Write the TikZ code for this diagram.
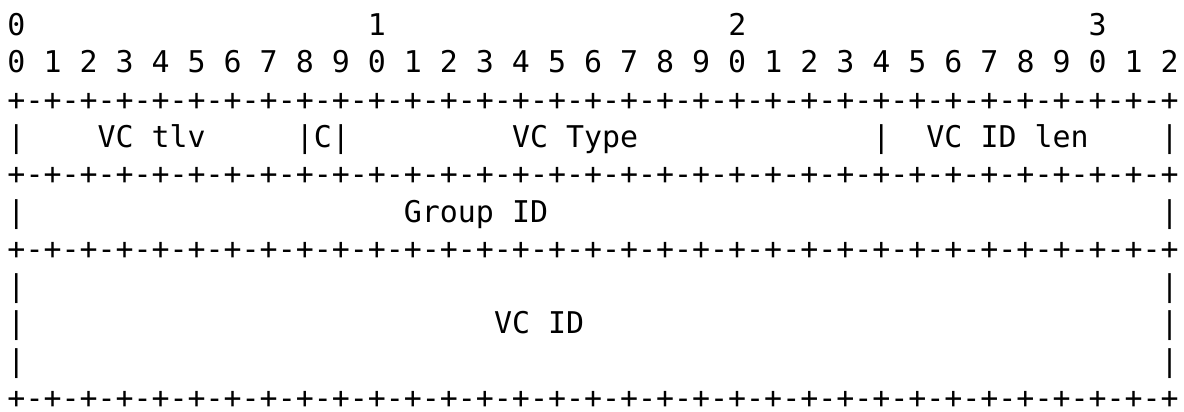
\documentclass[tikz,border=0pt]{standalone}
\usepackage{fontspec}
\newfontfamily\asciifont{DejaVu Sans Mono}
\begin{document}
\begin{tikzpicture}[x=1pt,y=-1pt,
  row/.style={anchor=base west,inner sep=0pt,outer sep=0pt,font=\asciifont\fontsize{29.93}{37.4}\selectfont}]
\useasboundingbox (0,0) rectangle (1184,412);
\def\rowy#1{35.5+37.3*#1}
\node[row] (r0) at (7.5,{\rowy{0}}) {0~~~~~~~~~~~~~~~~~~~1~~~~~~~~~~~~~~~~~~~2~~~~~~~~~~~~~~~~~~~3};
\node[row] (r1) at (7.5,{\rowy{1}}) {0~1~2~3~4~5~6~7~8~9~0~1~2~3~4~5~6~7~8~9~0~1~2~3~4~5~6~7~8~9~0~1~2};
\node[row] (r2) at (7.5,{\rowy{2}}) {+-+-+-+-+-+-+-+-+-+-+-+-+-+-+-+-+-+-+-+-+-+-+-+-+-+-+-+-+-+-+-+-+};
\node[row] (r3) at (7.5,{\rowy{3}}) {|~~~~VC~tlv~~~~~|C|~~~~~~~~~VC~Type~~~~~~~~~~~~~|~~VC~ID~len~~~~|};
\node[row] (r4) at (7.5,{\rowy{4}}) {+-+-+-+-+-+-+-+-+-+-+-+-+-+-+-+-+-+-+-+-+-+-+-+-+-+-+-+-+-+-+-+-+};
\node[row] (r5) at (7.5,{\rowy{5}}) {|~~~~~~~~~~~~~~~~~~~~~Group~ID~~~~~~~~~~~~~~~~~~~~~~~~~~~~~~~~~~|};
\node[row] (r6) at (7.5,{\rowy{6}}) {+-+-+-+-+-+-+-+-+-+-+-+-+-+-+-+-+-+-+-+-+-+-+-+-+-+-+-+-+-+-+-+-+};
\node[row] (r7) at (7.5,{\rowy{7}}) {|~~~~~~~~~~~~~~~~~~~~~~~~~~~~~~~~~~~~~~~~~~~~~~~~~~~~~~~~~~~~~~~|};
\node[row] (r8) at (7.5,{\rowy{8}}) {|~~~~~~~~~~~~~~~~~~~~~~~~~~VC~ID~~~~~~~~~~~~~~~~~~~~~~~~~~~~~~~~|};
\node[row] (r9) at (7.5,{\rowy{9}}) {|~~~~~~~~~~~~~~~~~~~~~~~~~~~~~~~~~~~~~~~~~~~~~~~~~~~~~~~~~~~~~~~|};
\node[row] (r10) at (7.5,{\rowy{10}}) {+-+-+-+-+-+-+-+-+-+-+-+-+-+-+-+-+-+-+-+-+-+-+-+-+-+-+-+-+-+-+-+-+};
\end{tikzpicture}
\end{document}
